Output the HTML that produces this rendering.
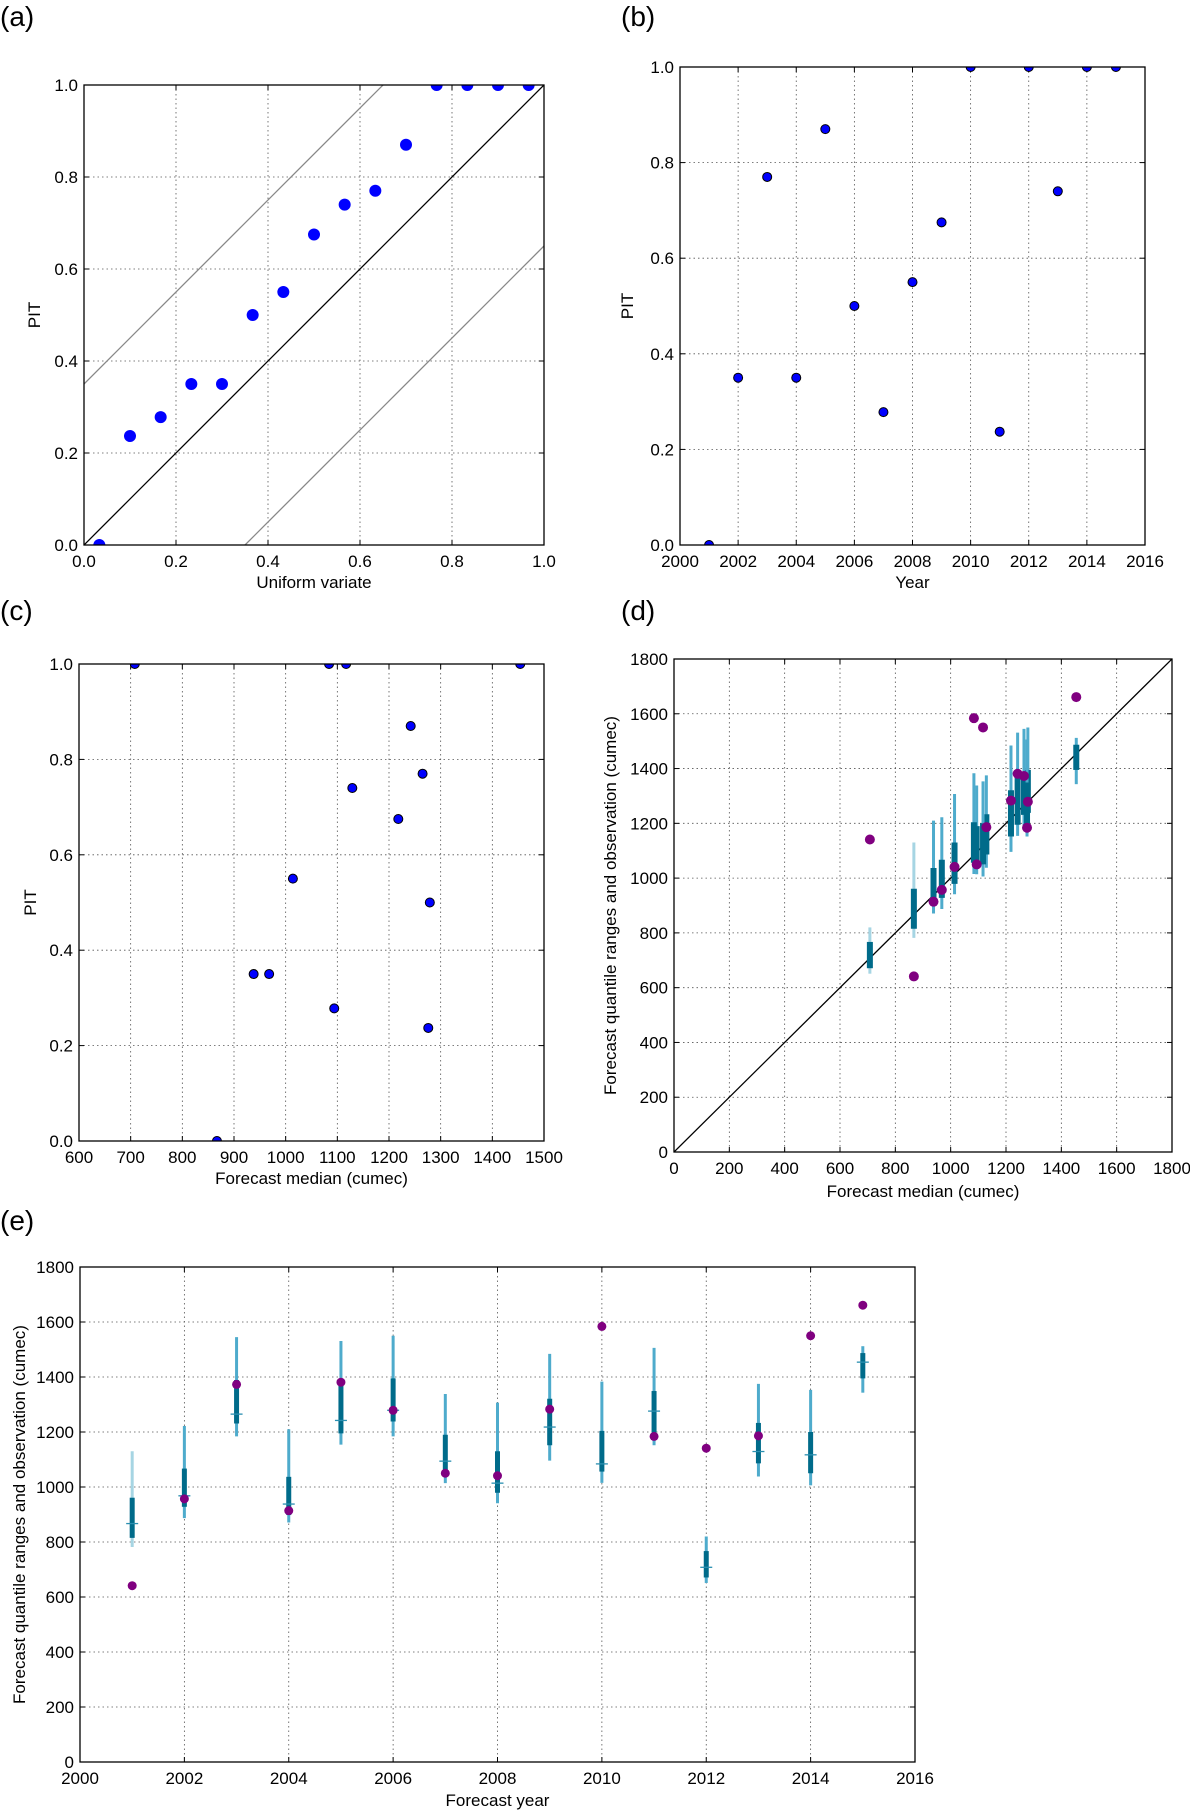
<!DOCTYPE html>
<html><head><meta charset="utf-8"><style>
body{margin:0;background:#fff;}
svg{display:block;font-family:"Liberation Sans","DejaVu Sans",sans-serif;}
</style></head><body>
<svg id="fig" width="1190" height="1814" viewBox="0 0 1190 1814" xmlns="http://www.w3.org/2000/svg">
<rect width="1190" height="1814" fill="#fff"/>
<defs id="defs"></defs>
<text x="0" y="26" font-size="28">(a)</text>
<text x="621" y="26" font-size="28">(b)</text>
<text x="0" y="620" font-size="28">(c)</text>
<text x="621" y="620" font-size="28">(d)</text>
<text x="0" y="1230" font-size="28">(e)</text>
</svg>
<script>
// ---- data ----
const years = [2001,2002,2003,2004,2005,2006,2007,2008,2009,2010,2011,2012,2013,2014,2015];
const pitValues = [0,0.35,0.77,0.35,0.87,0.5,0.278,0.55,0.675,1,0.237,1,0.74,1,1];
const medians = [867,968,1265,938,1242,1279,1094,1014,1218,1084,1276,708,1129,1117,1454];
const outerHigh = [1130,1222,1545,1210,1531,1550,1338,1307,1484,1383,1506,820,1375,1353,1512];
const outerLow = [782,887,1184,871,1154,1184,1014,941,1096,1015,1152,651,1038,1006,1343];
const innerHigh = [961,1067,1389,1037,1373,1395,1190,1130,1321,1204,1349,767,1233,1200,1487];
const innerLow = [815,928,1231,898,1195,1238,1049,979,1152,1056,1198,671,1086,1050,1395];
const observed = [641,957,1373,914,1381,1279,1050,1041,1283,1584,1184,1141,1186,1550,1661];
const ticks01 = ['0.0','0.2','0.4','0.6','0.8','1.0'];
const yearTicks = ['2000','2002','2004','2006','2008','2010','2012','2014','2016'];
const medianTicks = ['600','700','800','900','1000','1100','1200','1300','1400','1500'];
const flowTicks = ['0','200','400','600','800','1000','1200','1400','1600','1800'];
const bandOffset = 0.35;

const NS = 'http://www.w3.org/2000/svg';
const fig = document.getElementById('fig');
const defs = document.getElementById('defs');
let clipN = 0;
function mk(tag, attrs, parent){
  const e = document.createElementNS(NS, tag);
  for (const k in attrs) e.setAttribute(k, attrs[k]);
  (parent||fig).appendChild(e);
  return e;
}
function axes(name, box, xd, yd, xt, yt, xlabel, ylabel, xlabY, ylabX){
  const g = mk('g', {});
  
  
  const sx = v => box.x0 + (v - xd[0]) / (xd[1] - xd[0]) * (box.x1 - box.x0);
  const sy = v => box.y1 - (v - yd[0]) / (yd[1] - yd[0]) * (box.y1 - box.y0);
  xt.forEach(t => {
    const x = sx(+t);
    const l = mk('line', {x1:x, x2:x, y1:box.y0, y2:box.y1, stroke:'#555', 'stroke-width':0.8, 'stroke-dasharray':'1.5,3'}, g);
    
    
    mk('line', {x1:x, x2:x, y1:box.y1, y2:box.y1-5, stroke:'#000'}, g);
    mk('line', {x1:x, x2:x, y1:box.y0, y2:box.y0+5, stroke:'#000'}, g);
    const tx = mk('text', {x:x, y:box.y1+22, 'font-size':17, 'text-anchor':'middle'}, g);
    tx.textContent = t;
    
    
  });
  yt.forEach(t => {
    const y = sy(+t);
    const l = mk('line', {x1:box.x0, x2:box.x1, y1:y, y2:y, stroke:'#555', 'stroke-width':0.8, 'stroke-dasharray':'1.5,3'}, g);
    
    
    mk('line', {x1:box.x0, x2:box.x0+5, y1:y, y2:y, stroke:'#000'}, g);
    mk('line', {x1:box.x1, x2:box.x1-5, y1:y, y2:y, stroke:'#000'}, g);
    const tx = mk('text', {x:box.x0-6, y:y+6, 'font-size':17, 'text-anchor':'end'}, g);
    tx.textContent = t;
    
    
  });
  const id = 'clip' + (clipN++);
  const cp = mk('clipPath', {id:id}, defs);
  mk('rect', {x:box.x0, y:box.y0, width:box.x1-box.x0, height:box.y1-box.y0}, cp);
  const data = mk('g', {'clip-path':`url(#${id})`}, g);
  
  
  const fr = mk('rect', {x:box.x0, y:box.y0, width:box.x1-box.x0, height:box.y1-box.y0, fill:'none', stroke:'#000', 'stroke-width':1.3}, g);
  
  
  const xl = mk('text', {x:(box.x0+box.x1)/2, y:xlabY, 'font-size':17, 'text-anchor':'middle'}, g);
  xl.textContent = xlabel;
  
  
  const cy = (box.y0+box.y1)/2;
  const yl = mk('text', {x:ylabX, y:cy, 'font-size':17, 'text-anchor':'middle', transform:`rotate(-90 ${ylabX} ${cy})`}, g);
  yl.textContent = ylabel;
  
  
  return {g:data, sx, sy};
}
function dot(g, x, y, r, fill, stroke, name){
  const c = mk('circle', {cx:x, cy:y, r:r, fill:fill, stroke:stroke||'none', 'stroke-width':1}, g);
  
  
}
function line(g, x1, y1, x2, y2, stroke, w, name){
  const l = mk('line', {x1, y1, x2, y2, stroke, 'stroke-width':w}, g);
  
  
}

// Panel a
(function(){
  const {g, sx, sy} = axes('panel-a-pit-uniform', {x0:84,x1:544,y0:85,y1:545}, [0,1],[0,1], ticks01, ticks01, 'Uniform variate', 'PIT', 588, 40);
  line(g, sx(0), sy(0), sx(1), sy(1), '#000', 1.3, 'diagonal-line');
  line(g, sx(0), sy(bandOffset), sx(1-bandOffset), sy(1), '#888', 1.3, 'upper-band-line');
  line(g, sx(bandOffset), sy(0), sx(1), sy(1-bandOffset), '#888', 1.3, 'lower-band-line');
  const sorted = pitValues.slice().sort((a,b)=>a-b);
  const n = sorted.length;
  sorted.forEach((v,i) => dot(g, sx((i+0.5)/n), sy(v), 6, '#0000ff', null, 'pit-point'));
})();

// Panel b
(function(){
  const {g, sx, sy} = axes('panel-b-pit-year', {x0:680,x1:1145,y0:67,y1:545}, [2000,2016],[0,1], yearTicks, ticks01, 'Year', 'PIT', 588, 633);
  years.forEach((yr,i) => dot(g, sx(yr), sy(pitValues[i]), 4.5, '#0000ff', '#000', 'pit-year-point'));
})();

// Panel c
(function(){
  const {g, sx, sy} = axes('panel-c-pit-median', {x0:79,x1:544,y0:664,y1:1141}, [600,1500],[0,1], medianTicks, ticks01, 'Forecast median (cumec)', 'PIT', 1184, 36);
  years.forEach((yr,i) => dot(g, sx(medians[i]), sy(pitValues[i]), 4.5, '#0000ff', '#000', 'pit-median-point'));
})();

// Panel d
(function(){
  const {g, sx, sy} = axes('panel-d-quantile-vs-median', {x0:674,x1:1172,y0:659,y1:1152}, [0,1800],[0,1800], flowTicks, flowTicks, 'Forecast median (cumec)', 'Forecast quantile ranges and observation (cumec)', 1197, 616);
  line(g, sx(0), sy(0), sx(1800), sy(1800), '#000', 1.3, 'one-to-one-line');
  years.forEach((yr,i) => {
    const x = sx(medians[i]);
    line(g, x, sy(outerLow[i]), x, sy(outerHigh[i]), i===0||i===11 ? '#a6d5e3' : '#4eabcc', 3, 'outer-quantile-bar');
    line(g, x, sy(innerLow[i]), x, sy(innerHigh[i]), '#006b8a', 6, 'inner-quantile-bar');
  });
  years.forEach((yr,i) => dot(g, sx(medians[i]), sy(observed[i]), 5, '#800080', null, 'observation-point'));
})();

// Panel e
(function(){
  const {g, sx, sy} = axes('panel-e-quantile-vs-year', {x0:80,x1:915,y0:1267,y1:1762}, [2000,2016],[0,1800], yearTicks, flowTicks, 'Forecast year', 'Forecast quantile ranges and observation (cumec)', 1806, 25);
  years.forEach((yr,i) => {
    const x = sx(yr);
    line(g, x, sy(outerLow[i]), x, sy(outerHigh[i]), i===0 ? '#a6d5e3' : '#4eabcc', 3, 'outer-quantile-bar');
    line(g, x, sy(innerLow[i]), x, sy(innerHigh[i]), '#006b8a', 5, 'inner-quantile-bar');
    line(g, x-6, sy(medians[i]), x+6, sy(medians[i]), '#2a8fb0', 1.3, 'median-tick');
  });
  years.forEach((yr,i) => dot(g, sx(yr), sy(observed[i]), 4.5, '#800080', null, 'observation-point'));
})();
</script>
</body></html>
